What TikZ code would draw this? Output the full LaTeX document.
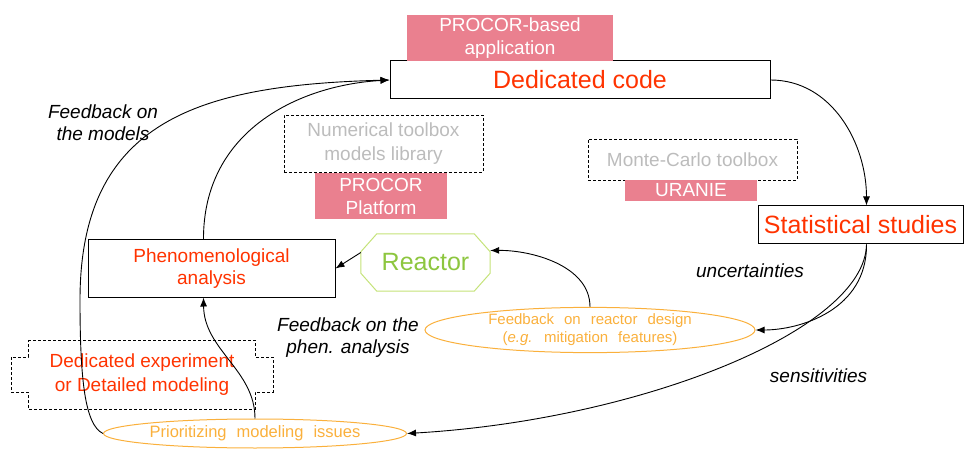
\documentclass[tikz,border=0pt]{standalone}
\usepackage{fontspec}
\setmainfont{Liberation Sans}
\usetikzlibrary{arrows.meta,shapes.geometric}

\definecolor{procorpink}{RGB}{234,128,143}
\definecolor{codered}{RGB}{255,51,0}
\definecolor{toolgrey}{RGB}{188,188,188}
\definecolor{reactorgreen}{RGB}{141,198,63}
\definecolor{reactorline}{RGB}{196,226,120}
\definecolor{feedorange}{RGB}{250,176,60}

\newcommand{\widewords}[1]{{\spaceskip 10pt\relax #1}}

\tikzset{
  mainbox/.style = {draw, line width=1pt, text=codered, inner sep=0pt, align=center},
  toolline/.style = {dash pattern=on 3pt off 2pt, line width=0.9pt},
  toolbox/.style = {draw, toolline, text=toolgrey, inner sep=0pt, align=center,
    font=\fontsize{19}{24}\selectfont},
  platform/.style = {fill=procorpink, text=white, inner sep=0pt, align=center,
    font=\fontsize{19}{23}\selectfont},
  issue/.style = {ellipse, draw=feedorange, line width=1pt, text=feedorange,
    inner sep=0pt, align=center},
  remark/.style = {font=\fontsize{19}{22}\selectfont\itshape, align=center},
  flow/.style = {line width=0.9pt, -{Latex[length=9pt,width=7pt]}}
}

\begin{document}
\begin{tikzpicture}[x=1pt, y=-1pt]
  \useasboundingbox (0,0) rectangle (964,449);

  \node[mainbox, minimum width=380pt, minimum height=38pt,
    font=\fontsize{25}{30}\selectfont] (code) at (580,80) {Dedicated code};
  \node[platform, minimum width=206pt, minimum height=46pt] (based) at (510,38)
    {PROCOR-based\\application};

  \node[toolbox, minimum width=199pt, minimum height=57pt] (numtool) at (383.5,143.5)
    {Numerical toolbox\\models library};
  \node[platform, minimum width=132pt, minimum height=46pt] (platform) at (381,196)
    {PROCOR\\Platform};
  \node[toolbox, minimum width=209pt, minimum height=41pt] (mctool) at (692.5,159.5)
    {Monte-Carlo toolbox};
  \node[platform, minimum width=132pt, minimum height=21pt] (uranie) at (691,190.5)
    {URANIE};

  \node[mainbox, minimum width=205pt, minimum height=38pt,
    font=\fontsize{25}{30}\selectfont] (stats) at (860.5,225) {Statistical studies};
  \node[mainbox, minimum width=247pt, minimum height=57pt,
    font=\fontsize{19}{22}\selectfont] (phen) at (211.5,268.5)
    {Phenomenological\\analysis};

  \node[text=reactorgreen, inner sep=0pt, minimum width=129pt, minimum height=57pt,
    font=\fontsize{25}{30}\selectfont] (reactor) at (425.5,262.5) {Reactor};
  \draw[reactorline, line width=1pt] ([xshift=16pt]reactor.north west)
    -- ([xshift=-16pt]reactor.north east) -- ([yshift=-18pt]reactor.north east)
    -- ([yshift=18pt]reactor.south east) -- ([xshift=-16pt]reactor.south east)
    -- ([xshift=16pt]reactor.south west) -- ([yshift=18pt]reactor.south west)
    -- ([yshift=-18pt]reactor.north west) -- cycle;

  \node[issue, minimum width=330pt, minimum height=44pt,
    font=\fontsize{15}{18}\selectfont] (design) at (590,330)
    {\widewords{Feedback on reactor design}\\\widewords{(\textit{e.g.} mitigation features)}};
  \node[issue, minimum width=303pt, minimum height=29pt,
    font=\fontsize{16.5}{20}\selectfont] (prio) at (255,433.5)
    {\widewords{Prioritizing modeling issues}};

  \draw[toolline] (28,340) -- (255,340) -- (255,357) -- (273,357) -- (273,392)
    -- (255,392) -- (255,409) -- (28,409) -- (28,392) -- (11,392) -- (11,357)
    -- (28,357) -- cycle;
  \node[font=\fontsize{19}{24}\selectfont, text=codered, align=center] (experiment)
    at (142,375) {Dedicated experiment\\or Detailed modeling};

  \node[remark] (models) at (103,122.5) {Feedback on\\the models};
  \node[remark] (uncert) at (750,271) {uncertainties};
  \node[remark] (phenfb) at (348,338) {Feedback on the\\phen. analysis};
  \node[remark] (sensit) at (818.5,375.5) {sensitivities};

  \draw[flow] (code.east) to[out=0, in=90] ([xshift=6pt]stats.north);
  \draw[flow] ([xshift=6pt]stats.south) .. controls (867,310) and (800,330) .. (design.east);
  \draw[flow] ([xshift=6pt]stats.south) .. controls (865,330) and (640,420) .. (prio.east);
  \draw[flow] (design.north) .. controls (590,265) and (530,250) .. ([yshift=12pt]reactor.east);
  \draw[flow] ([yshift=10pt]reactor.west) -- (phen.east);
  \draw[flow] ([xshift=-8pt]phen.north) .. controls (203,130) and (300,85) .. (code.west);
  \draw[flow] (prio.west) .. controls (85,425) and (80,380) .. (80,300)
    .. controls (80,120) and (200,85) .. (code.west);
  \draw[flow] (prio.north) .. controls (255,370) and (204,350) .. ([xshift=-8pt]phen.south);
\end{tikzpicture}
\end{document}
